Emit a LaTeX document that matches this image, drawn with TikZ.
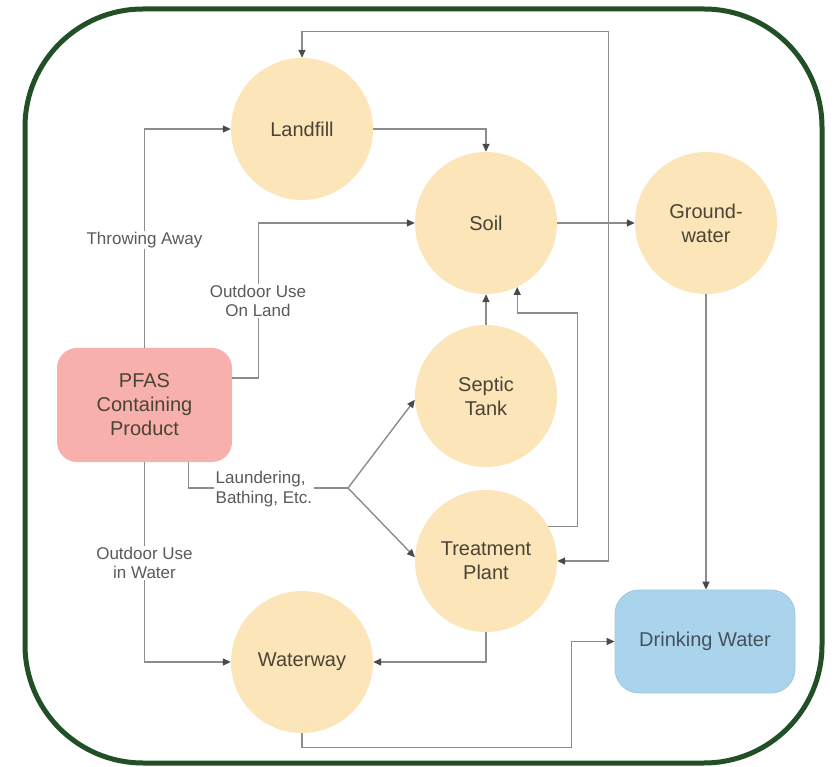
\documentclass[tikz,border=0pt]{standalone}
\usepackage{fontspec}
\setmainfont{Liberation Sans}
\usetikzlibrary{arrows.meta}
\definecolor{peach}{HTML}{FCE5B9}
\definecolor{pfasc}{HTML}{F7B0AB}
\definecolor{dwc}{HTML}{AAD4EC}
\definecolor{framec}{HTML}{214F26}
\definecolor{linec}{HTML}{8C8C8C}
\definecolor{tipc}{HTML}{4A4A4A}
\definecolor{ntext}{HTML}{4A4436}
\definecolor{dwtext}{HTML}{46515C}
\definecolor{ltext}{HTML}{5A5A5A}
\tikzset{
  circ/.style={circle, fill=peach, minimum size=142pt, inner sep=0pt, text=ntext,
    align=center, font=\fontsize{20}{24}\selectfont},
  pfasbox/.style={rectangle, rounded corners=20pt, fill=pfasc, minimum width=175pt,
    minimum height=114pt, inner sep=0pt, text=ntext, align=center, font=\fontsize{20}{24}\selectfont},
  dwbox/.style={rectangle, rounded corners=24pt, fill=dwc, draw=dwc!85!gray, line width=0.8pt,
    minimum width=180pt, minimum height=103pt, inner sep=0pt, text=dwtext,
    align=center, font=\fontsize{20}{24}\selectfont},
  conn/.style={draw=linec, line width=1.4pt, -{Triangle[length=8pt,width=7pt,color=tipc]}},
  conn2/.style={draw=linec, line width=1.4pt, {Triangle[length=8pt,width=7pt,color=tipc]}-{Triangle[length=8pt,width=7pt,color=tipc]}},
  lab/.style={fill=white, inner sep=1.5pt, text=ltext, align=center, font=\fontsize{17}{19.5}\selectfont},
}
\begin{document}
\begin{tikzpicture}[x=1pt,y=-1pt]
\useasboundingbox (0,0) rectangle (836,767);
\draw[line width=5pt, color=framec, rounded corners=118pt] (25,9) rectangle (822,763);

% nodes
\node[circ] (landfill) at (302,129) {Landfill};
\node[circ] (soil) at (486,223) {Soil};
\node[circ] (gw) at (706,223) {Ground-\\water};
\node[circ] (septic) at (486,396) {Septic\\Tank};
\node[circ] (treat) at (486,561) {Treatment\\Plant};
\node[circ] (water) at (302,662) {Waterway};
\node[pfasbox] (pfas) at (144.5,405) {PFAS\\Containing\\Product};
\node[dwbox] (dw) at (705,641.5) {Drinking Water};

% connectors
\draw[conn] (pfas.north) |- (landfill.west);
\draw[conn] ([yshift=27pt]pfas.east) -- ++(26,0) |- (soil.west);
\draw[conn] (landfill.east) -| (soil.north);
\draw[conn] (soil.east) -- (gw.west);
\draw[conn] (gw.south) -- (gw.south |- dw.north);
\draw[conn] (septic.north) -- (soil.south);
\draw[conn] (treat.29) -- ++(29,0) |- ([yshift=-26pt]soil.296) -- (soil.296);
\draw[conn2] (landfill.north) -- ++(0,-26) -| ([xshift=51pt]treat.east) -- (treat.east);
\coordinate (j) at (348,488);
\draw[draw=linec, line width=1.4pt] ([xshift=44pt]pfas.south) |- (j);
\draw[conn] (j) -- (septic.183);
\draw[conn] (j) -- (treat.177);
\draw[conn] (treat.south) |- (water.east);
\draw[conn] (pfas.south) |- (water.west);
\draw[conn] (water.south) -- ++(0,14) -| ([xshift=-43pt]dw.west) -- (dw.west);

% labels
\node[lab] (lthrow) at (144.5,240) {Throwing Away};
\node[lab] (lland) at (258,301) {Outdoor Use\\On Land};
\node[lab] (lwater) at (144.5,563) {Outdoor Use\\in Water};
\node[lab, align=left, anchor=west] (llaund) at (214,489) {Laundering,\\Bathing, Etc.};
\end{tikzpicture}
\end{document}
